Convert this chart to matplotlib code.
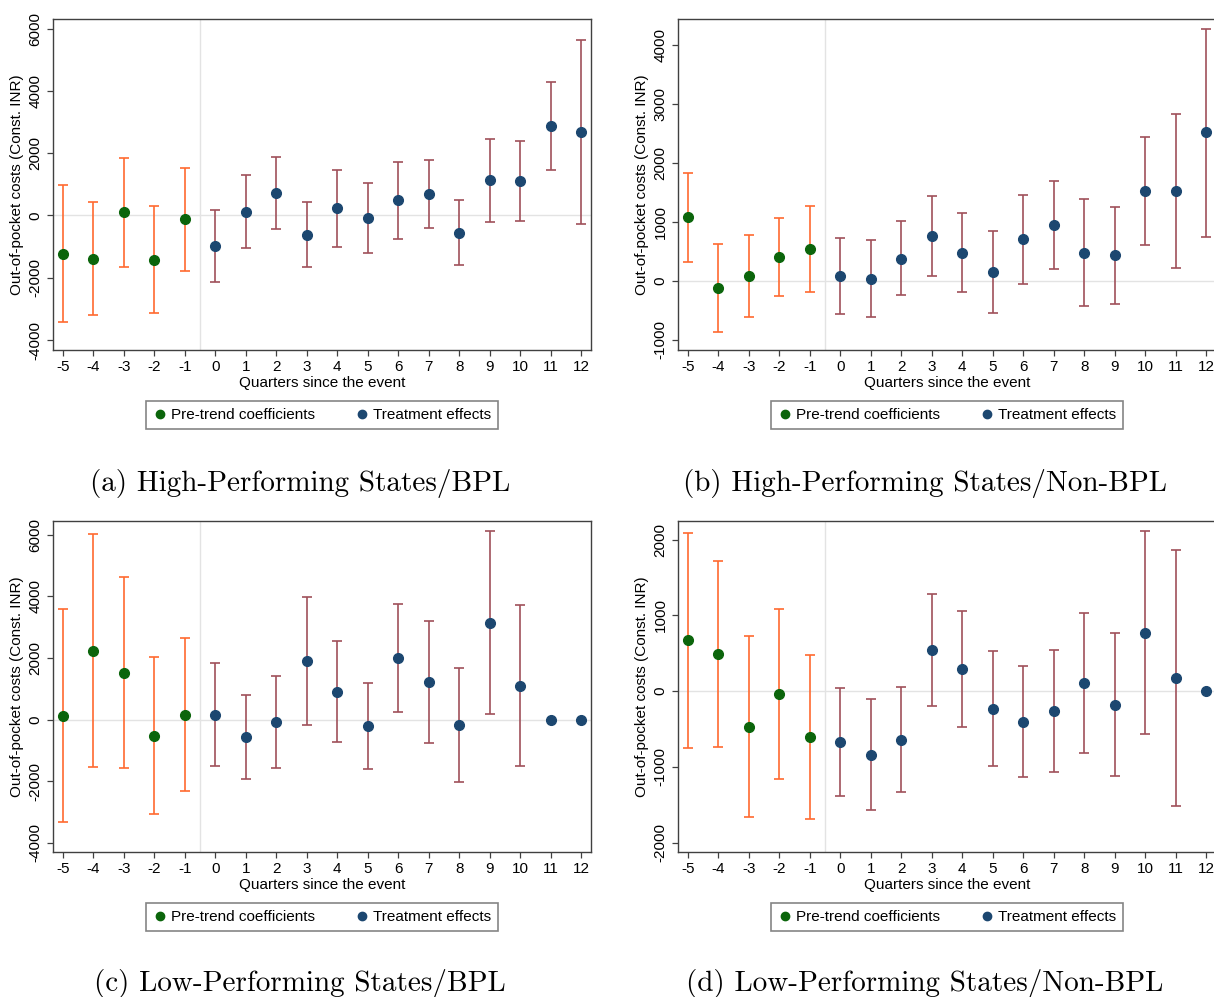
import numpy as np
import matplotlib
matplotlib.use("Agg")
import matplotlib.pyplot as plt
from matplotlib.lines import Line2D

# === Data ===
pre_q = [-5, -4, -3, -2, -1]
post_q = [0, 1, 2, 3, 4, 5, 6, 7, 8, 9, 10, 11, 12]
all_q = pre_q + post_q

# (a) High-Performing States/BPL
a_coef = [-1232, -1383, 107, -1415, -118,
          -986, 118, 718, -622, 225, -96, 493, 697, -547, 1125, 1104, 2862, 2679]
a_lo = [-3430, -3194, -1640, -3140, -1768,
        -2122, -1050, -439, -1640, -997, -1211, -750, -397, -1586, -204, -171, 1447, -279]
a_hi = [975, 429, 1843, 311, 1533,
        161, 1297, 1876, 439, 1447, 1029, 1726, 1790, 493, 2454, 2401, 4298, 5638]

# (b) High-Performing States/Non-BPL
b_coef = [1079, -119, 85, 407, 537,
          85, 40, 379, 763, 480, 153, 706, 944, 480, 435, 1525, 1525, 2514]
b_lo = [328, -870, -605, -254, -181,
        -559, -605, -243, 85, -186, -537, -51, 198, -418, -384, 605, 215, 746]
b_hi = [1831, 633, 780, 1073, 1260,
        734, 689, 1017, 1446, 1147, 853, 1458, 1695, 1384, 1254, 2441, 2831, 4271]

# (c) Low-Performing States/BPL
c_coef = [119, 2234, 1518, -531, 152,
          152, -575, -87, 1898, 900, -217, 1996, 1215, -184, 3145, 1095, 0, 0]
c_lo = [-3330, -1540, -1573, -3080, -2321,
        -1518, -1931, -1573, -174, -716, -1605, 260, -770, -2028, 174, -1508, 0, 0]
c_hi = [3590, 6020, 4620, 2039, 2646,
        1822, 813, 1410, 3991, 2549, 1193, 3742, 3210, 1659, 6139, 3709, 0, 0]

# (d) Low-Performing States/Non-BPL
d_coef = [673, 493, -466, -35, -607,
          -669, -836, -638, 537, 286, -229, -405, -264, 110, -180, 770, 167, 0]
d_lo = [-744, -730, -1659, -1157, -1690,
        -1386, -1567, -1333, -202, -475, -990, -1131, -1065, -818, -1122, -568, -1514, 0]
d_hi = [2090, 1721, 730, 1087, 480,
        44, -97, 53, 1285, 1052, 532, 326, 546, 1034, 766, 2117, 1861, 0]

captions = ["(a) High-Performing States/BPL", "(b) High-Performing States/Non-BPL",
            "(c) Low-Performing States/BPL", "(d) Low-Performing States/Non-BPL"]

# === Styles ===
pre_ci = "#ff6a30"
pre_pt = "#0b650b"
post_ci = "#a0505a"
post_pt = "#1c4770"
frame_col = "#404040"

plt.rcParams['font.family'] = ['Liberation Sans', 'DejaVu Sans']
plt.rcParams['axes.unicode_minus'] = False

W, H = 1214, 997
fig = plt.figure(figsize=(W / 100, H / 100), dpi=100)


def panel(rect, coef, lo, hi, ylim, yticks, cap, cap_xy):
    ax = fig.add_axes(rect)
    n = len(pre_q)
    coef = np.array(coef, dtype=float)
    lo = np.array(lo, dtype=float)
    hi = np.array(hi, dtype=float)

    ax.axhline(0, color="#e3e3e3", lw=1, zorder=0)
    ax.axvline(-0.5, color="#e3e3e3", lw=1, zorder=0)

    for sl, q, ci_c, pt_c in [(slice(0, n), pre_q, pre_ci, pre_pt),
                              (slice(n, None), post_q, post_ci, post_pt)]:
        c = coef[sl]
        yerr = [c - lo[sl], hi[sl] - c]
        ax.errorbar(q, c, yerr=yerr, fmt='none', ecolor=ci_c, elinewidth=1.2,
                    capsize=3.6, capthick=1.2, zorder=2)
        ax.plot(q, c, 'o', color=pt_c, markersize=7, zorder=3)

    ax.set_xlim(-5.32, 12.32)
    ax.set_ylim(*ylim)
    ax.set_xticks(all_q)
    ax.set_yticks(yticks)
    ax.tick_params(direction='out', length=4.5, width=0.9, color=frame_col,
                   labelsize=11, pad=3)
    for lab in ax.get_yticklabels():
        lab.set_rotation(90)
        lab.set_va('center')
    for s in ax.spines.values():
        s.set_color(frame_col)
        s.set_linewidth(1.0)

    ax.set_xlabel("Quarters since the event", fontsize=11, labelpad=1)
    ax.set_ylabel("Out-of-pocket costs (Const. INR)", fontsize=11, labelpad=3)

    handles = [Line2D([], [], ls='none', marker='o', color=pre_pt, markersize=6),
               Line2D([], [], ls='none', marker='o', color=post_pt, markersize=6)]
    leg = ax.legend(handles, ["Pre-trend coefficients", "Treatment effects"],
                    loc='center', bbox_to_anchor=(0.5, -0.196), ncol=2,
                    fontsize=11, frameon=True, fancybox=False,
                    handletextpad=0.2, columnspacing=2.6, handlelength=1.0,
                    borderpad=0.45, borderaxespad=0)
    leg.get_frame().set_edgecolor("#666666")
    leg.get_frame().set_linewidth(1.2)

    fig.text(cap_xy[0], cap_xy[1], cap, family='cmr10', fontsize=21,
             ha='center', va='center')
    return ax


aw, ah = 538 / W, 331 / H
panel([53 / W, 1 - 350 / H, aw, ah], a_coef, a_lo, a_hi, (-4320, 6310),
      [-4000, -2000, 0, 2000, 4000, 6000], captions[0], (300 / W, 1 - 483 / H))
panel([678 / W, 1 - 350 / H, aw, ah], b_coef, b_lo, b_hi, (-1170, 4435),
      [-1000, 0, 1000, 2000, 3000, 4000], captions[1], (925 / W, 1 - 483 / H))
panel([53 / W, 1 - 852 / H, aw, ah], c_coef, c_lo, c_hi, (-4306, 6453),
      [-4000, -2000, 0, 2000, 4000, 6000], captions[2], (300 / W, 1 - 983 / H))
panel([678 / W, 1 - 852 / H, aw, ah], d_coef, d_lo, d_hi, (-2121, 2244),
      [-2000, -1000, 0, 1000, 2000], captions[3], (925 / W, 1 - 983 / H))

fig.savefig("out.png", dpi=100, facecolor="white")
